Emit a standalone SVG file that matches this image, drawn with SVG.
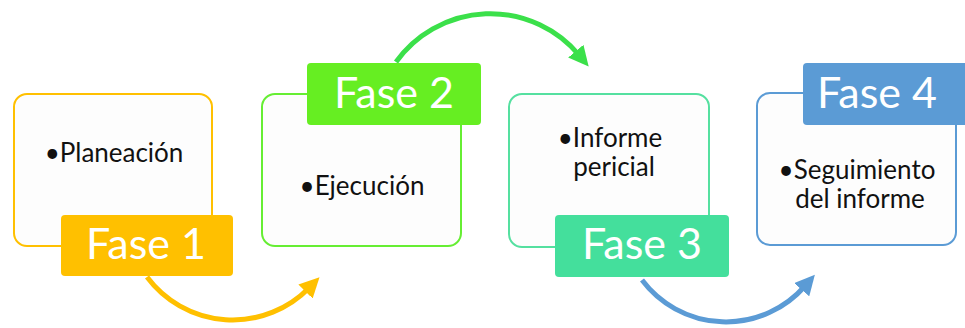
<svg xmlns="http://www.w3.org/2000/svg" width="965" height="328" viewBox="0 0 965 328">
<style>
.box{fill:#fdfdfd;stroke-width:2}
.lab{stroke:none}
.t{font-family:Lato,"Liberation Sans",sans-serif;font-size:26px;fill:#111;text-anchor:middle}
.ft{font-family:Lato,"Liberation Sans",sans-serif;font-size:43px;fill:#fff;text-anchor:middle}
.arc{fill:none;stroke-width:5}
</style>
<defs>
<marker id="mY" markerWidth="4" markerHeight="4" refX="1" refY="2" orient="auto" markerUnits="strokeWidth"><path d="M0,0 L4,2 L0,4 z" fill="#FFC000"/></marker>
<marker id="mG" markerWidth="4" markerHeight="4" refX="1" refY="2" orient="auto" markerUnits="strokeWidth"><path d="M0,0 L4,2 L0,4 z" fill="#3BE04A"/></marker>
<marker id="mB" markerWidth="4" markerHeight="4" refX="1" refY="2" orient="auto" markerUnits="strokeWidth"><path d="M0,0 L4,2 L0,4 z" fill="#5B9BD5"/></marker>
</defs>
<g id="connectors">
<path class="arc" stroke="#FFC000" marker-end="url(#mY)" d="M147,277 A107,107 0 0 0 309,288"/>
<path class="arc" stroke="#3BE04A" marker-end="url(#mG)" d="M396,62 A116,116 0 0 1 579,55"/>
<path class="arc" stroke="#5B9BD5" marker-end="url(#mB)" d="M642,280 A105,105 0 0 0 805,286"/>
</g>
<g id="n1">
<rect class="box" x="14" y="94" width="198" height="152" rx="13" stroke="#FFC000"/>
<text class="t" x="114" y="162">•Planeación</text>
<rect class="lab" x="61" y="215" width="172" height="61" rx="4" fill="#FFC000"/>
<text class="ft" x="146" y="259">Fase 1</text>
</g>
<g id="n2">
<rect class="box" x="262" y="94" width="199" height="152" rx="13" stroke="#66EE33"/>
<text class="t" x="362" y="195">•Ejecución</text>
<rect class="lab" x="307" y="63" width="174" height="62" rx="4" fill="#66EE22"/>
<text class="ft" x="394" y="108">Fase 2</text>
</g>
<g id="n3">
<rect class="box" x="509" y="94" width="200" height="153" rx="13" stroke="#55E0A0"/>
<text class="t" x="610" y="147">•Informe</text>
<text class="t" x="614" y="176">pericial</text>
<rect class="lab" x="555" y="215" width="174" height="62" rx="4" fill="#44DF9C"/>
<text class="ft" x="642" y="259">Fase 3</text>
</g>
<g id="n4">
<rect class="box" x="757" y="93" width="199" height="152" rx="13" stroke="#5B9BD5"/>
<text class="t" x="857" y="179">•Seguimiento</text>
<text class="t" x="860" y="208">del informe</text>
<rect class="lab" x="803" y="63" width="176" height="62" rx="4" fill="#5B9BD5"/>
<text class="ft" x="877" y="108">Fase 4</text>
</g>
</svg>
